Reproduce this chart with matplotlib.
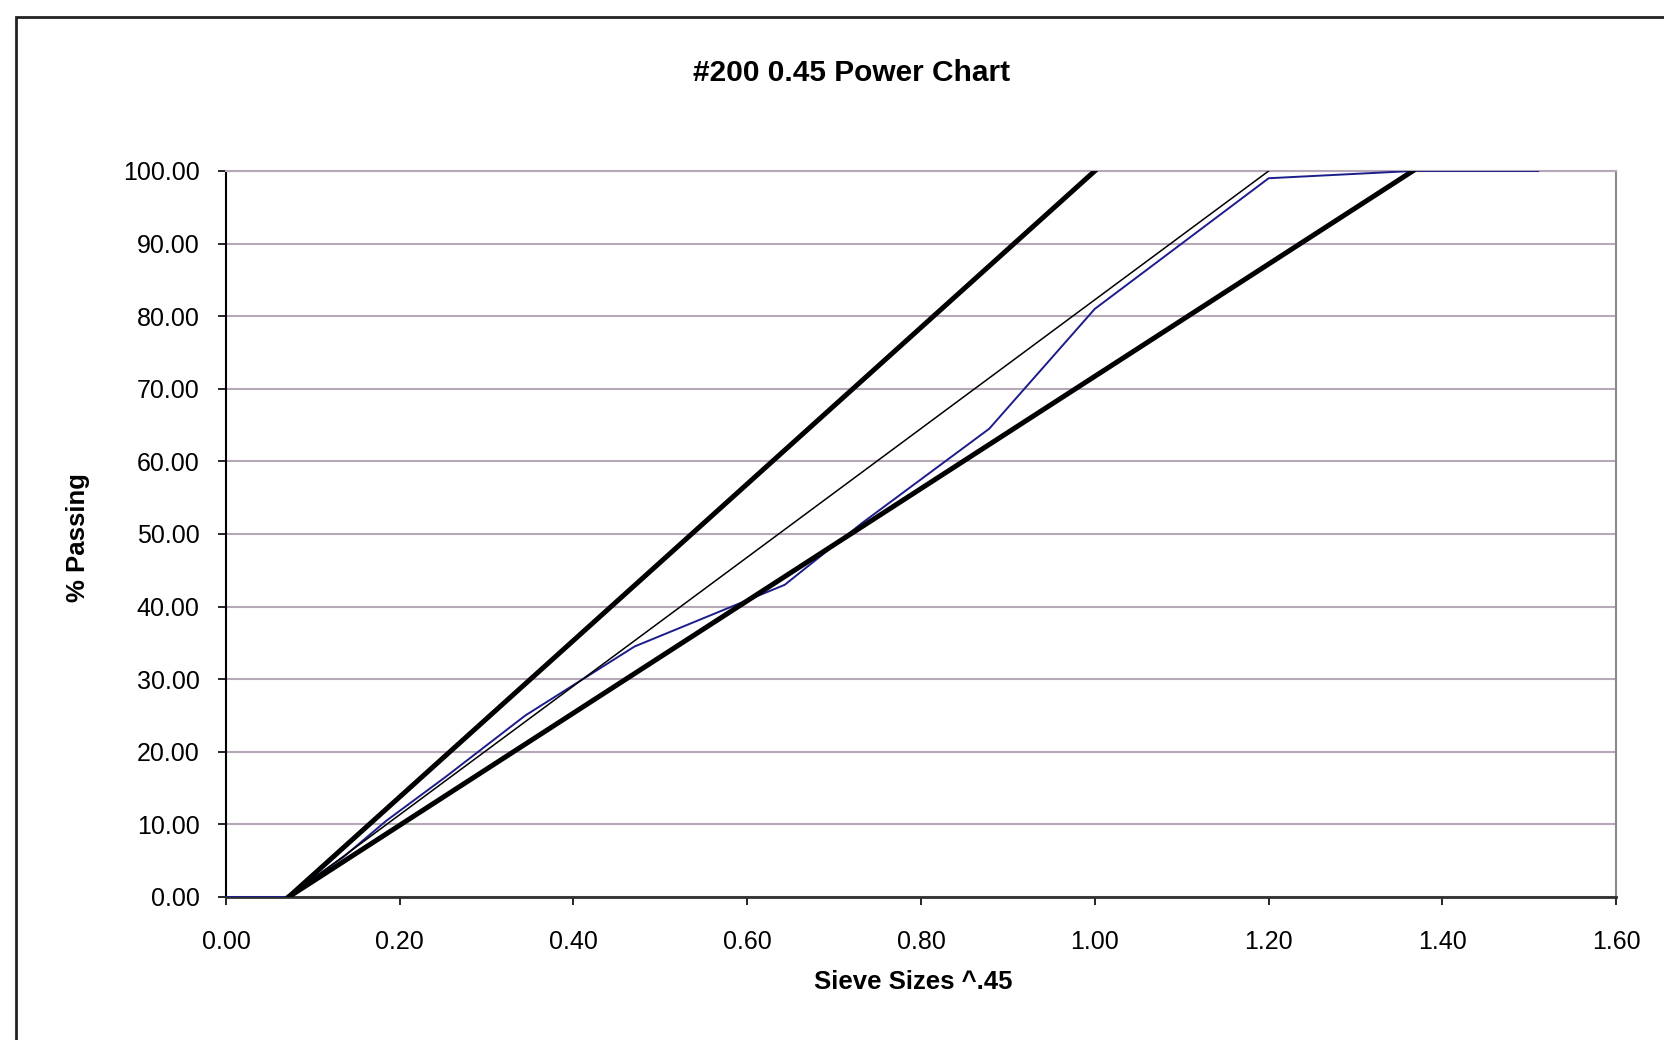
import matplotlib.pyplot as plt
from matplotlib.patches import Rectangle
from matplotlib.ticker import FormatStrFormatter

plt.rcParams['font.family'] = ['Liberation Sans', 'DejaVu Sans']

# sieve openings in inches (pan, #200 ... 2 1/2")
sieve_in = [0, 0.0029, 0.0059, 0.0117, 0.0234, 0.0469, 0.0937, 0.187,
            0.375, 0.5, 0.75, 1.0, 1.5, 2.0, 2.5]
passing = [0, 0, 2.5, 5.5, 10.5, 16.5, 25.0, 34.5,
           43.0, 51.5, 64.5, 81.0, 99.0, 100, 100]
x_blend = [s ** 0.45 for s in sieve_in]

# straight lines (sieve size in inches -> % passing)
upper_sizes = [0.0029, 1.0]
maxden_sizes = [0.0029, 1.5]
lower_sizes = [0.0029, 2.0]
line_pct = [0, 100]

fig = plt.figure(figsize=(16.65, 10.4), dpi=100)
ax = fig.add_axes([0.1357, 0.1375, 0.9706 - 0.1357, 0.8356 - 0.1375])

ax.plot(x_blend, passing, color='#1c1c8c', lw=1.4, zorder=3)
ax.plot([s ** 0.45 for s in maxden_sizes], line_pct, color='black', lw=1.1, zorder=4)
ax.plot([s ** 0.45 for s in upper_sizes], line_pct, color='black', lw=3.6, zorder=4)
ax.plot([s ** 0.45 for s in lower_sizes], line_pct, color='black', lw=3.6, zorder=4)

ax.set_xlim(0, 1.6)
ax.set_ylim(0, 100)
ax.set_xticks([0.2 * i for i in range(9)])
ax.set_yticks(range(0, 101, 10))
ax.xaxis.set_major_formatter(FormatStrFormatter('%.2f'))
ax.yaxis.set_major_formatter(FormatStrFormatter('%.2f'))
ax.tick_params(labelsize=18, length=6, width=1.2, direction='out')
ax.tick_params(axis='x', pad=18)
ax.tick_params(axis='y', pad=13)
ax.yaxis.grid(True, color='#b6a8b8', lw=1.5)
ax.set_axisbelow(True)

ax.spines['left'].set_color('black')
ax.spines['left'].set_linewidth(1.5)
ax.spines['bottom'].set_color('#303030')
ax.spines['bottom'].set_linewidth(2)
ax.spines['right'].set_color('#8a8a8a')
ax.spines['right'].set_linewidth(1.5)
ax.spines['top'].set_color('#b6a8b8')
ax.spines['top'].set_linewidth(1.5)

fig.text(0.5117, 0.9300, '#200 0.45 Power Chart', ha='center', va='center',
         fontsize=21.5, fontweight='bold')
fig.text(0.5484, 0.0558, 'Sieve Sizes ^.45', ha='center', va='center',
         fontsize=18.5, fontweight='bold')
fig.text(0.0466, 0.4827, '% Passing', ha='center', va='center',
         fontsize=18.5, fontweight='bold', rotation=90)

# outer chart frame (cropped on right and bottom)
fig.patches.append(Rectangle((16 / 1665, -0.05), 1.2, 1 - 17 / 1040 + 0.05,
                             transform=fig.transFigure, fill=False,
                             edgecolor='#222222', lw=2))

fig.savefig('out.png', dpi=100)
